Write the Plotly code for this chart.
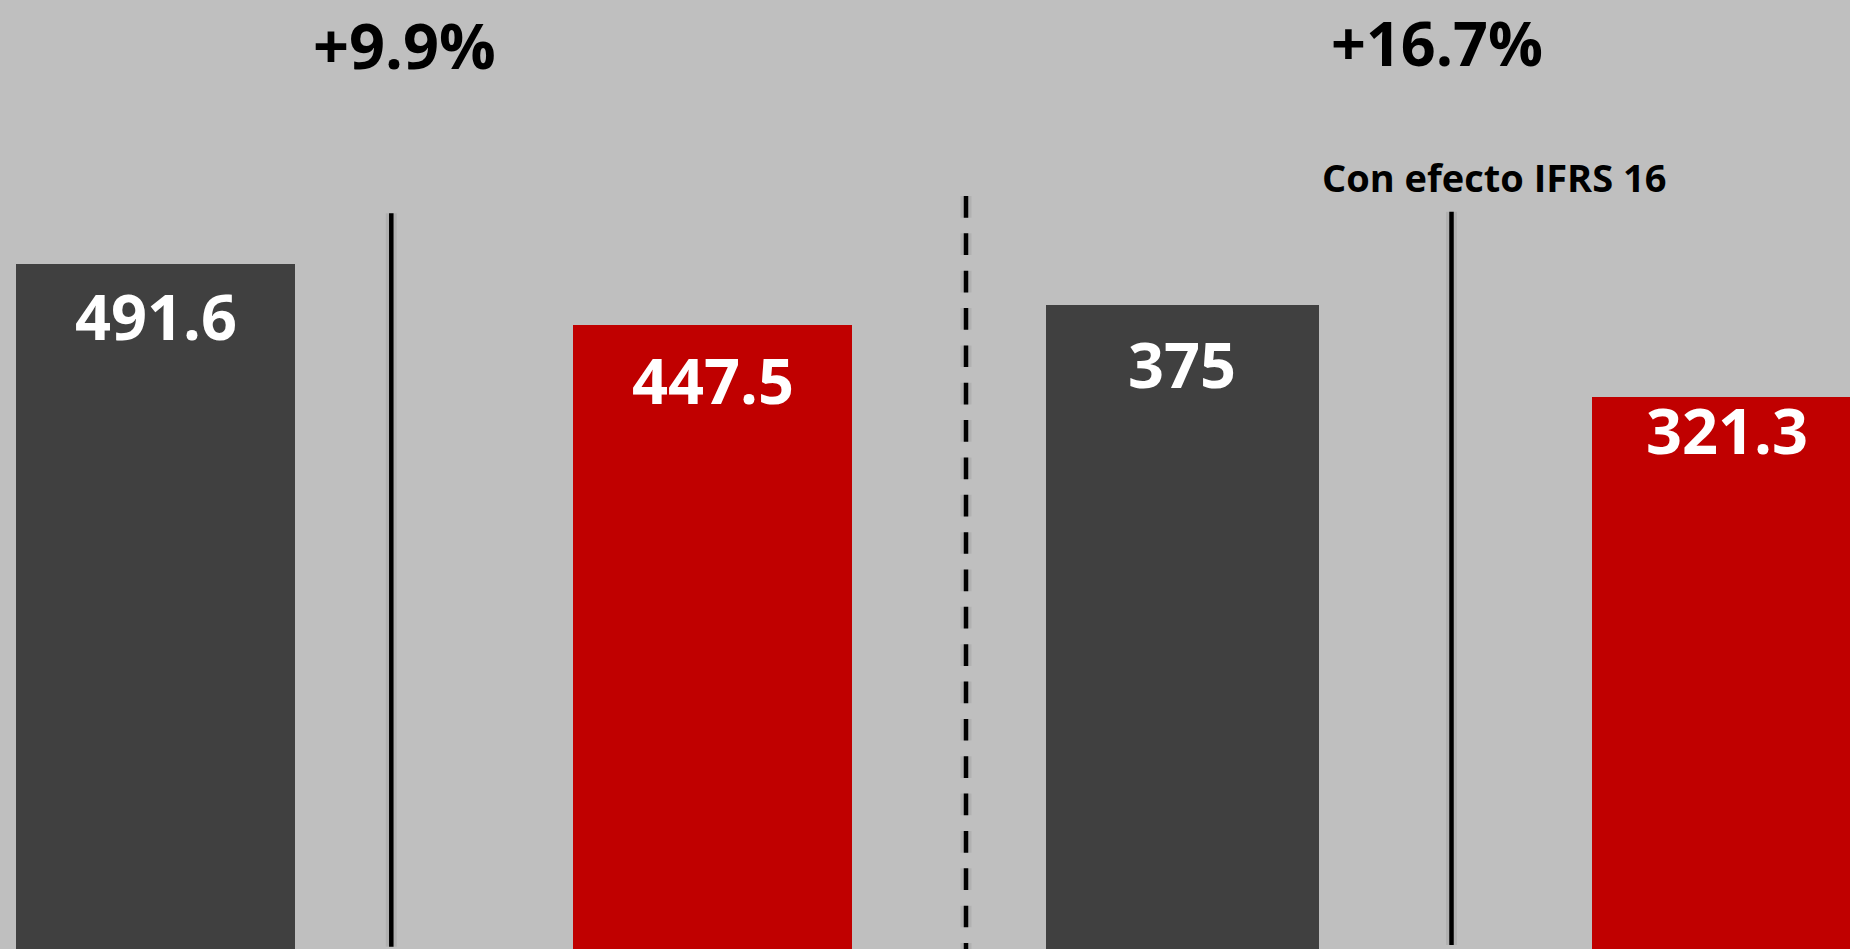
import plotly.graph_objects as go

# ---- data ----
left_categories = ["Periodo actual", "Periodo anterior"]
left_values = [491.6, 447.5]
right_categories = ["Periodo actual", "Periodo anterior"]
right_values = [375, 321.3]
growth_labels = ["+9.9%", "+16.7%"]
subtitle_right = "Con efecto IFRS 16"

# ---- style ----
W, H = 1850, 949
BG = "#BFBFBF"
DARK = "#404040"
RED = "#C00000"
bar_colors = [DARK, RED]
FONT = "Open Sans"
label_offsets_left = [51.5, 54.5]
label_offsets_right = [58.5, 32.5]

fig = go.Figure()
fig.add_trace(go.Bar(x=left_categories, y=left_values, marker=dict(color=bar_colors, line=dict(width=0)),
                     width=0.5, xaxis="x", yaxis="y", hoverinfo="skip", showlegend=False))
fig.add_trace(go.Bar(x=right_categories, y=right_values, marker=dict(color=bar_colors, line=dict(width=0)),
                     width=0.5, xaxis="x2", yaxis="y2", hoverinfo="skip", showlegend=False))

split = 965.5 / W
annotations = []
for cat, val, off in zip(left_categories, left_values, label_offsets_left):
    annotations.append(dict(x=cat, y=val, xref="x", yref="y", text=f"{val:g}", showarrow=False,
                            yanchor="middle", yshift=-off,
                            font=dict(family=FONT, size=63, color="white", weight=700)))
for cat, val, off in zip(right_categories, right_values, label_offsets_right):
    annotations.append(dict(x=cat, y=val, xref="x2", yref="y2", text=f"{val:g}", showarrow=False,
                            yanchor="middle", yshift=-off,
                            font=dict(family=FONT, size=63, color="white", weight=700)))

annotations.append(dict(x=404 / W, y=1 - 45 / H, xref="paper", yref="paper", text=growth_labels[0],
                        showarrow=False, xanchor="center", yanchor="middle",
                        font=dict(family=FONT, size=63, color="black", weight=700)))
annotations.append(dict(x=1437 / W, y=1, xref="paper", yref="paper", text=growth_labels[1],
                        showarrow=False, xanchor="center", yanchor="top", borderpad=0,
                        font=dict(family=FONT, size=61, color="black", weight=700)))
annotations.append(dict(x=1494 / W, y=1 - 177 / H, xref="paper", yref="paper", text=subtitle_right,
                        showarrow=False, xanchor="center", yanchor="middle",
                        font=dict(family=FONT, size=38, color="black", weight=700)))

shapes = []
def vline(xpx, ytop, ybot, dash="solid"):
    # soft shadow
    shapes.append(dict(type="line", xref="paper", yref="paper", x0=xpx / W, x1=xpx / W,
                       y0=1 - ytop / H, y1=1 - ybot / H,
                       line=dict(color="rgba(0,0,0,0.07)", width=11, dash=dash)))
    shapes.append(dict(type="line", xref="paper", yref="paper", x0=xpx / W, x1=xpx / W,
                       y0=1 - ytop / H, y1=1 - ybot / H,
                       line=dict(color="black", width=4.5, dash=dash)))

vline(391.3, 213.3, 946.7)
vline(1451.5, 211.7, 945.0)
vline(966, 196, 960, dash="21.7px,15.65px")

fig.update_layout(
    width=W, height=H,
    margin=dict(l=0, r=0, t=0, b=0, pad=0),
    paper_bgcolor=BG, plot_bgcolor=BG,
    bargap=0,
    xaxis=dict(domain=[0, split], range=[-0.2791, 1.4538], visible=False, fixedrange=True),
    yaxis=dict(domain=[0, 1], range=[0, 681.07], visible=False, fixedrange=True),
    xaxis2=dict(domain=[split, 1], range=[-0.3964, 1.2245], visible=False, fixedrange=True),
    yaxis2=dict(domain=[0, 1], range=[0, 552.6], visible=False, fixedrange=True, anchor="x2"),
    annotations=annotations,
    shapes=shapes,
    showlegend=False,
)

fig.write_html("out.html", config={"displayModeBar": False})
